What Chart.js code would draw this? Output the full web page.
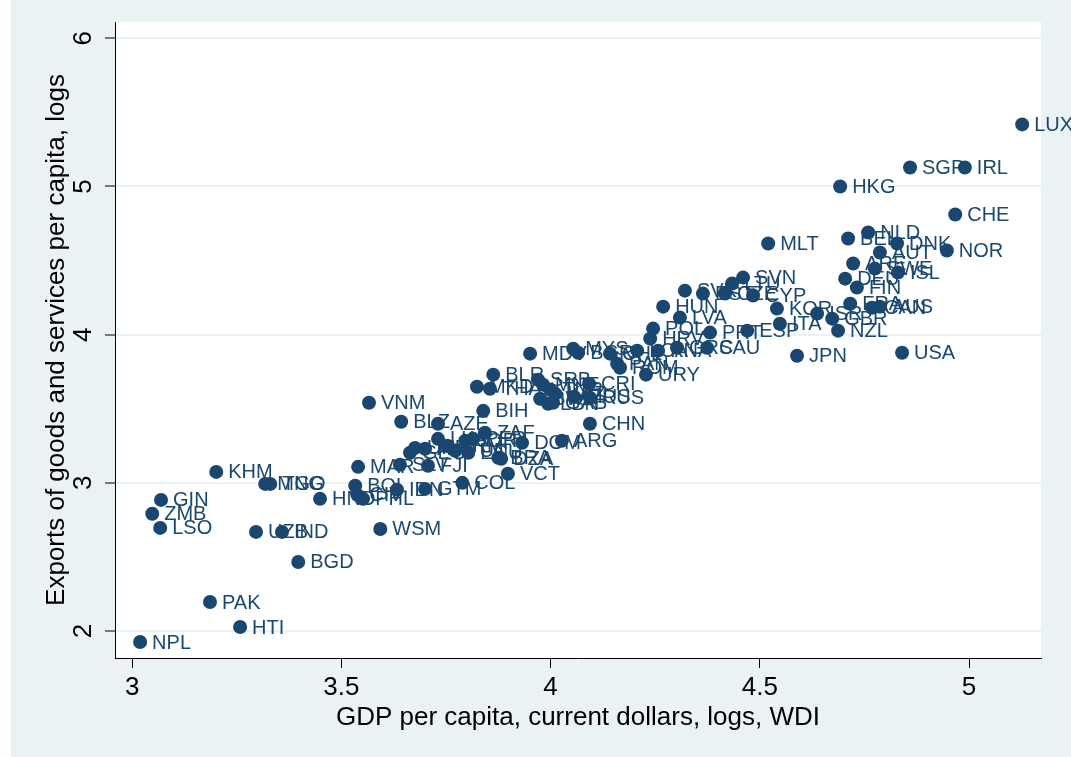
<!DOCTYPE html>
<html>
<head>
<meta charset="utf-8">
<script src="https://cdn.jsdelivr.net/npm/chart.js@4/dist/chart.umd.min.js"></script>
<style>
  html, body { margin: 0; padding: 0; background: #ffffff; }
  #wrap { position: relative; width: 1071px; height: 757px; }
</style>
</head>
<body>
<div id="wrap"><canvas id="scatterChart" width="1071" height="757"></canvas></div>
<script>
var countries = [
    'NPL','HTI','PAK','BGD','WSM','UZB','IND','LSO','ZMB','GIN',
    'KHM','MNG','TGO','HND','BOL','CIV','PHL','IDN','GTM','COL',
    'VCT','MAR','SLV','FJI','VNM','BLZ','AZE','BIH','ZAF','PER',
    'LKA','JOR','DOM','UKR','GEO','ARM','BRA','DZA','ARG','CHN',
    'ALB','TUN','ECU','MDV','MYS','BGR','CHL','BLR','MKD','THA',
    'SRB','MNE','TUR','KAZ','BWA','LBN','GAB','CRI','RUS','MUS',
    'HUN','LVA','POL','HRV','PRT','ESP','ITA','KOR','SVK','EST',
    'CZE','LTU','SVN','CYP','MLT','KNA','LCA','GRC','SAU','PAN',
    'ROM','URY','JPN','USA','NZL','GBR','ISR','FRA','CAN','AUS',
    'FIN','DEU','ARE','SWE','ISL','BEL','NLD','DNK','AUT','NOR',
    'CHE','HKG','SGP','IRL','LUX'
];

// GDP per capita, current dollars, logs
var gdpLog = [
    3.019, 3.258, 3.186, 3.397, 3.593, 3.296, 3.358, 3.067, 3.048, 3.069,
    3.201, 3.318, 3.330, 3.449, 3.533, 3.538, 3.552, 3.633, 3.700, 3.789,
    3.898, 3.540, 3.640, 3.707, 3.566, 3.643, 3.731, 3.839, 3.843, 3.815,
    3.731, 3.796, 3.932, 3.676, 3.664, 3.753, 3.875, 3.882, 4.027, 4.094,
    3.700, 3.772, 3.803, 3.951, 4.054, 4.066, 4.142, 3.863, 3.824, 3.855,
    3.970, 3.982, 3.999, 4.011, 3.975, 3.994, 4.006, 4.092, 4.094, 4.056,
    4.269, 4.309, 4.245, 4.238, 4.381, 4.470, 4.548, 4.541, 4.321, 4.364,
    4.417, 4.434, 4.460, 4.484, 4.520, 4.257, 4.207, 4.302, 4.374, 4.159,
    4.166, 4.228, 4.589, 4.840, 4.687, 4.673, 4.637, 4.716, 4.768, 4.787,
    4.732, 4.704, 4.723, 4.775, 4.830, 4.711, 4.759, 4.828, 4.787, 4.947,
    4.967, 4.692, 4.859, 4.990, 5.127
];

// Exports of goods and services per capita, logs
var exportsLog = [
    1.926, 2.027, 2.196, 2.466, 2.689, 2.669, 2.669, 2.696, 2.791, 2.885,
    3.074, 2.993, 2.993, 2.892, 2.980, 2.919, 2.892, 2.953, 2.959, 3.000,
    3.061, 3.108, 3.122, 3.115, 3.541, 3.412, 3.399, 3.486, 3.338, 3.297,
    3.297, 3.284, 3.270, 3.236, 3.203, 3.250, 3.169, 3.162, 3.284, 3.399,
    3.230, 3.216, 3.203, 3.872, 3.905, 3.878, 3.872, 3.730, 3.649, 3.635,
    3.696, 3.662, 3.628, 3.601, 3.568, 3.534, 3.541, 3.669, 3.574, 3.581,
    4.189, 4.115, 4.041, 3.973, 4.014, 4.027, 4.074, 4.176, 4.297, 4.277,
    4.277, 4.345, 4.385, 4.264, 4.615, 3.892, 3.892, 3.912, 3.912, 3.804,
    3.777, 3.730, 3.858, 3.878, 4.027, 4.108, 4.142, 4.209, 4.182, 4.189,
    4.318, 4.378, 4.480, 4.446, 4.419, 4.649, 4.689, 4.615, 4.554, 4.568,
    4.811, 5.000, 5.128, 5.128, 5.419
];

var xTicks = [3, 3.5, 4, 4.5, 5];
var yTicks = [2, 3, 4, 5, 6];

var navy = '#1A476F';
var frameBlue = '#EAF2F3';

var points = gdpLog.map(function (g, i) {
    return { x: g, y: exportsLog[i] };
});

// background: white page, bluish graph region, white plot region
var backgroundPlugin = {
    id: 'stataBackground',
    beforeDraw: function (chart) {
        var c = chart.ctx, a = chart.chartArea;
        c.save();
        c.fillStyle = '#ffffff';
        c.fillRect(0, 0, chart.width, chart.height);
        c.fillStyle = frameBlue;
        c.fillRect(11, 0, chart.width - 11, chart.height);
        c.fillStyle = '#ffffff';
        c.fillRect(a.left, a.top, a.right - a.left, a.bottom - a.top);
        c.restore();
    }
};

// country codes to the right of each marker
var markerLabels = {
    id: 'markerLabels',
    afterDatasetsDraw: function (chart) {
        var c = chart.ctx;
        var meta = chart.getDatasetMeta(0);
        c.save();
        c.font = '20px "Liberation Sans", Arial, sans-serif';
        c.fillStyle = navy;
        c.textAlign = 'left';
        c.textBaseline = 'middle';
        meta.data.forEach(function (el, i) {
            c.fillText(countries[i], el.x + 12, el.y + 1);
        });
        c.restore();
    }
};

// vertical y tick labels, Stata style
var yTickLabels = {
    id: 'yTickLabels',
    afterDraw: function (chart) {
        var c = chart.ctx, ys = chart.scales.y;
        c.save();
        c.font = '26px "Liberation Sans", Arial, sans-serif';
        c.fillStyle = '#000000';
        c.textAlign = 'center';
        c.textBaseline = 'middle';
        yTicks.forEach(function (v) {
            var py = ys.getPixelForValue(v);
            c.save();
            c.translate(84, py);
            c.rotate(-Math.PI / 2);
            c.fillText(String(v), 0, 0);
            c.restore();
        });
        c.restore();
    }
};

var ctx = document.getElementById('scatterChart').getContext('2d');

var scatterChart = new Chart(ctx, {
    type: 'scatter',
    data: {
        datasets: [{
            label: 'Exports per capita',
            data: points,
            backgroundColor: navy,
            borderColor: navy,
            borderWidth: 0,
            pointRadius: 7,
            pointHoverRadius: 7
        }]
    },
    options: {
        responsive: false,
        animation: false,
        layout: {
            padding: { top: 22, right: 30, left: 0, bottom: 0 }
        },
        plugins: {
            legend: { display: false },
            tooltip: { enabled: false }
        },
        scales: {
            x: {
                type: 'linear',
                min: 2.959,
                max: 5.172,
                afterFit: function (scale) { scale.height = 99; },
                afterBuildTicks: function (scale) {
                    scale.ticks = xTicks.map(function (v) { return { value: v }; });
                },
                ticks: {
                    color: '#000000',
                    padding: 4,
                    maxRotation: 0,
                    font: { size: 26, family: '"Liberation Sans", Arial, sans-serif' },
                    callback: function (value) {
                        return String(value); // 3, 3.5, 4 ... like Stata
                    }
                },
                grid: {
                    drawOnChartArea: false,
                    drawTicks: true,
                    tickLength: 10,
                    tickColor: '#000000',
                    tickWidth: 1
                },
                border: { color: '#000000', width: 1 },
                title: {
                    display: true,
                    text: 'GDP per capita, current dollars, logs, WDI',
                    color: '#000000',
                    font: { size: 26, family: '"Liberation Sans", Arial, sans-serif' },
                    padding: { top: 0, bottom: 24 }
                }
            },
            y: {
                type: 'linear',
                min: 1.818,
                max: 6.11,
                afterFit: function (scale) { scale.width = 115; },
                afterBuildTicks: function (scale) {
                    scale.ticks = yTicks.map(function (v) { return { value: v }; });
                },
                ticks: {
                    display: false
                },
                grid: {
                    color: frameBlue,
                    lineWidth: 2,
                    drawTicks: true,
                    tickLength: 10,
                    tickColor: '#000000',
                    tickWidth: 1
                },
                border: { color: '#000000', width: 1 },
                title: {
                    display: true,
                    text: 'Exports of goods and services per capita, logs',
                    color: '#000000',
                    font: { size: 26, family: '"Liberation Sans", Arial, sans-serif' },
                    padding: { top: 41, bottom: 0 }
                }
            }
        }
    },
    plugins: [backgroundPlugin, markerLabels, yTickLabels]
});
</script>
</body>
</html>
